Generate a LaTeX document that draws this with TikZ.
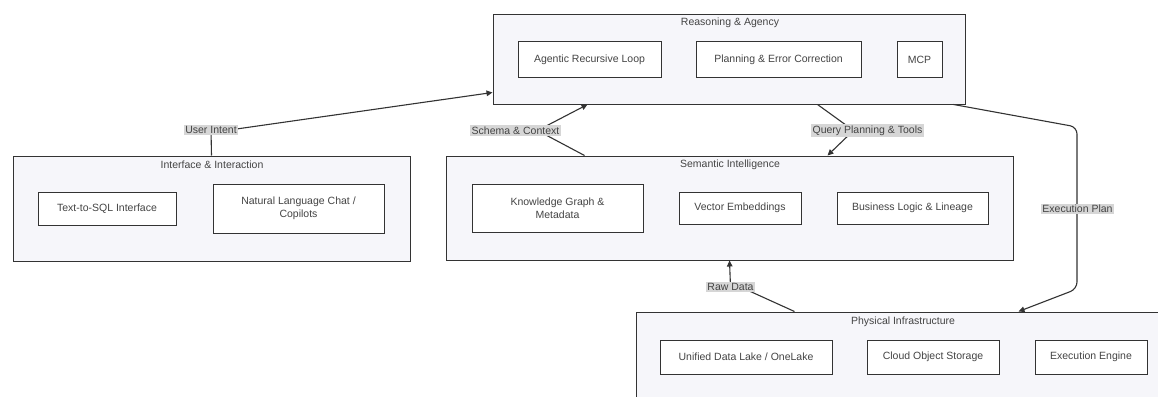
\documentclass[tikz,border=0pt]{standalone}
\usepackage{fontspec}
\setmainfont{Liberation Sans}
\usetikzlibrary{arrows.meta,calc}
\pgfdeclarelayer{bg}
\pgfdeclarelayer{edge}
\pgfsetlayers{bg,edge,main}
\definecolor{linec}{HTML}{333333}
\definecolor{txtc}{HTML}{444444}
\definecolor{clfill}{HTML}{F6F6FA}
\definecolor{lblfill}{HTML}{D6D6D6}
\tikzset{
  cluster/.style={draw=linec,line width=1pt,fill=clfill,inner sep=0pt},
  ctitle/.style={text=txtc,font=\fontsize{10.5}{12}\selectfont,inner sep=0pt},
  box/.style={draw=linec,line width=1pt,fill=white,inner sep=0pt,text=txtc,
    font=\fontsize{10.5}{13}\selectfont,align=center},
  elabel/.style={fill=lblfill,text=txtc,font=\fontsize{10.5}{12}\selectfont,
    inner xsep=1.5pt,inner ysep=1.5pt},
  conn/.style={draw=linec,line width=1.1pt},
  arr/.style={conn,-{Triangle[length=6pt,width=5.5pt]}}
}
\begin{document}
\begin{tikzpicture}[x=1pt,y=-1pt]
\useasboundingbox (0,0) rectangle (1158,396);
% clusters
\begin{pgfonlayer}{bg}
\fill[white] (0,0) rectangle (1158,396);
\node[cluster,minimum width=472pt,minimum height=89pt] (rea) at (729,59.5) {};
\node[cluster,minimum width=397pt,minimum height=105pt] (intf) at (211.5,208.5) {};
\node[cluster,minimum width=567pt,minimum height=104pt] (sem) at (729.5,208) {};
\node[cluster,minimum width=534pt,minimum height=110pt] (phys) at (903,367) {};
\end{pgfonlayer}
% cluster titles
\node[ctitle] (reat) at (730,23) {Reasoning \& Agency};
\node[ctitle] (intft) at (212,164.5) {Interface \& Interaction};
\node[ctitle] (semt) at (730,164.5) {Semantic Intelligence};
\node[ctitle] (physt) at (903,322) {Physical Infrastructure};
% inner nodes
\node[box,minimum width=143pt,minimum height=35pt] (ag) at (589.5,59.5) {Agentic Recursive Loop};
\node[box,minimum width=165pt,minimum height=35pt] (pl) at (778.5,59.5) {Planning \& Error Correction};
\node[box,minimum width=45pt,minimum height=35pt] (mcp) at (919.5,59.5) {MCP};
\node[box,minimum width=138pt,minimum height=33pt] (t2s) at (107,208.5) {Text-to-SQL Interface};
\node[box,minimum width=171pt,minimum height=49pt] (nl) at (298.5,208.5) {Natural Language Chat /\\Copilots};
\node[box,minimum width=171pt,minimum height=48pt] (kg) at (557.5,208) {Knowledge Graph \&\\Metadata};
\node[box,minimum width=122pt,minimum height=32pt] (ve) at (740,208) {Vector Embeddings};
\node[box,minimum width=151pt,minimum height=32pt] (bl) at (912.5,208) {Business Logic \& Lineage};
\node[box,minimum width=172pt,minimum height=34pt] (ud) at (746,357) {Unified Data Lake / OneLake};
\node[box,minimum width=132pt,minimum height=34pt] (co) at (933,357) {Cloud Object Storage};
\node[box,minimum width=112pt,minimum height=34pt] (ee) at (1091,357) {Execution Engine};
% edge labels
\node[elabel] (ui) at (211,130) {User Intent};
\node[elabel] (sc) at (515.5,130.5) {Schema \& Context};
\node[elabel] (qp) at (867.5,130.5) {Query Planning \& Tools};
\node[elabel] (rd) at (730.5,287) {Raw Data};
\node[elabel] (ep) at (1077.5,209) {Execution Plan};
% edges
\coordinate (c1) at (1077,127);
\coordinate (c2) at (1077,289);
\begin{pgfonlayer}{edge}
\draw[conn] (intf.north) -- (ui.center);
\draw[arr] (ui.center) -- ($(ui.east)+(-2,-1)$) -- ($(rea.south west)+(0,-12)$);
\draw[conn] ($(sem.north west)+(139,0)$) -- ($(sc.center)+(22,0)$);
\draw[arr] ($(sc.center)+(22,0)$) -- ($(rea.south west)+(95,0)$);
\draw[conn] ($(rea.south west)+(325,0)$) -- ($(qp.center)+(-14,0)$);
\draw[arr] ($(qp.center)+(-14,0)$) -- ($(sem.north west)+(382,0)$);
\draw[conn] ($(phys.north west)+(159,0)$) -- ($(rd.center)+(10,0)$) -- (rd.center);
\draw[arr] (rd.center) -- (sem.south);
\draw[arr,rounded corners=7pt] ($(rea.south east)+(-12,0)$) -- (c1) -- (c2) -- ($(phys.north west)+(383,0)$);
\end{pgfonlayer}
\end{tikzpicture}
\end{document}
